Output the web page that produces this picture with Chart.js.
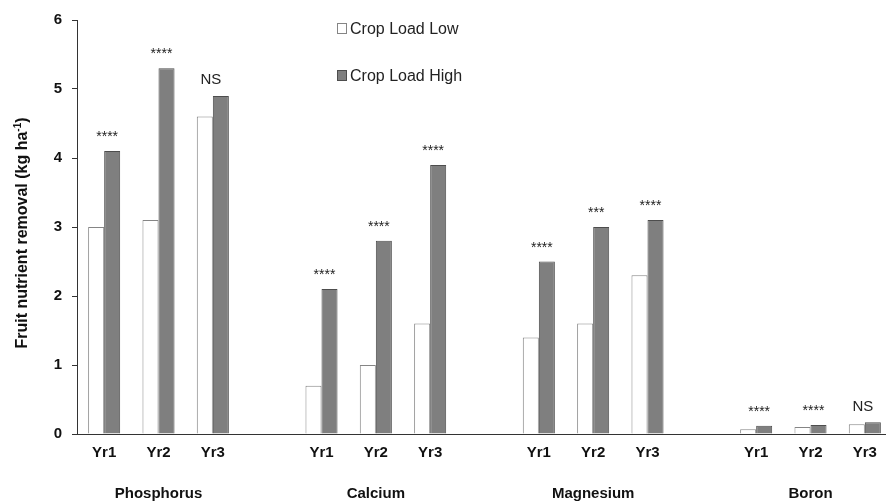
<!DOCTYPE html>
<html>
<head>
<meta charset="utf-8">
<script src="https://cdn.jsdelivr.net/npm/chart.js@4.4.1/dist/chart.umd.min.js"></script>
<style>
  html, body { margin: 0; padding: 0; background: #ffffff; overflow: hidden; }
  #wrap { width: 886px; height: 502px; overflow: hidden; position: relative; }
  canvas { display: block; }
</style>
</head>
<body>
<div id="wrap"><canvas id="chart" width="893" height="502"></canvas></div>
<script>
// ---- Data ----
const groups = ['Phosphorus', 'Calcium', 'Magnesium', 'Boron'];
const years = ['Yr1', 'Yr2', 'Yr3'];
const seriesNames = ['Crop Load Low', 'Crop Load High'];
const lowValues = [3.0, 3.1, 4.6, 0.7, 1.0, 1.6, 1.4, 1.6, 2.3, 0.07, 0.10, 0.14];
const highValues = [4.1, 5.3, 4.9, 2.1, 2.8, 3.9, 2.5, 3.0, 3.1, 0.12, 0.13, 0.17];
const significance = ['****', '****', 'NS', '****', '****', '****', '****', '***', '****', '****', '****', 'NS'];
const yTicks = [0, 1, 2, 3, 4, 5, 6];
const yTitle = 'Fruit nutrient removal (kg ha';
const yTitleSup = '-1';
const yTitleEnd = ')';

// ---- Build category slots (a blank spacer between nutrient groups) ----
const labels = [];
const lowData = [];
const highData = [];
const slotIndex = [];
groups.forEach((g, gi) => {
  years.forEach((y, yi) => {
    slotIndex.push(labels.length);
    labels.push(y);
    lowData.push(lowValues[gi * years.length + yi]);
    highData.push(highValues[gi * years.length + yi]);
  });
  if (gi < groups.length - 1) {
    labels.push('');
    lowData.push(null);
    highData.push(null);
  }
});

const FONT = '"Liberation Sans", Arial, Helvetica, sans-serif';
const LOW_FILL = '#ffffff', LOW_BORDER = '#858585';
const HIGH_FILL = '#7f7f7f', HIGH_BORDER = '#4d4d4d';

const overlay = {
  id: 'overlay',
  afterDraw(chart) {
    const ctx = chart.ctx;
    const metaLow = chart.getDatasetMeta(0);
    const metaHigh = chart.getDatasetMeta(1);
    ctx.save();
    // significance marks
    slotIndex.forEach((idx, k) => {
      const bl = metaLow.data[idx], bh = metaHigh.data[idx];
      const cx = (bl.x + bh.x) / 2;
      const top = Math.min(bl.y, bh.y);
      const txt = significance[k];
      ctx.fillStyle = '#222';
      ctx.textAlign = 'center';
      ctx.textBaseline = 'alphabetic';
      if (txt === 'NS') {
        ctx.font = '15px ' + FONT;
        ctx.fillText(txt, cx - 2, top - 11.5);
      } else {
        ctx.font = '14px ' + FONT;
        ctx.fillText(txt, cx + 3, top - 10);
      }
    });
    // group labels under Yr2
    const xs = chart.scales.x;
    ctx.font = 'bold 15px ' + FONT;
    ctx.fillStyle = '#111';
    ctx.textAlign = 'center';
    ctx.textBaseline = 'alphabetic';
    groups.forEach((g, gi) => {
      const idx = slotIndex[gi * years.length + 1];
      ctx.fillText(g, xs.getPixelForValue(idx), 498);
    });
    // legend
    const leg = [[LOW_FILL, LOW_BORDER], [HIGH_FILL, HIGH_BORDER]];
    ctx.font = '16px ' + FONT;
    ctx.textAlign = 'left';
    seriesNames.forEach((name, i) => {
      const base = 34 + i * 47;
      ctx.fillStyle = leg[i][0];
      ctx.strokeStyle = leg[i][1];
      ctx.lineWidth = 1;
      ctx.fillRect(337.5, base - 10.5, 9, 10);
      ctx.strokeRect(337.5, base - 10.5, 9, 10);
      ctx.fillStyle = '#222';
      ctx.fillText(name, 350, base);
    });
    // y-axis title with superscript
    ctx.translate(23, 233);
    ctx.rotate(-Math.PI / 2);
    const fMain = 'bold 16px ' + FONT, fSup = 'bold 10px ' + FONT;
    ctx.font = fMain; const w1 = ctx.measureText(yTitle).width; const w3 = ctx.measureText(yTitleEnd).width;
    ctx.font = fSup; const w2 = ctx.measureText(yTitleSup).width;
    let x0 = -(w1 + w2 + w3) / 2;
    ctx.fillStyle = '#111';
    ctx.textAlign = 'left';
    ctx.textBaseline = 'middle';
    ctx.font = fMain; ctx.fillText(yTitle, x0, 0); x0 += w1;
    ctx.font = fSup; ctx.fillText(yTitleSup, x0, -5); x0 += w2;
    ctx.font = fMain; ctx.fillText(yTitleEnd, x0, 0);
    ctx.restore();
  }
};

new Chart(document.getElementById('chart'), {
  type: 'bar',
  data: {
    labels: labels,
    datasets: [
      { label: seriesNames[0], data: lowData, backgroundColor: LOW_FILL, borderColor: LOW_BORDER, borderWidth: 1 },
      { label: seriesNames[1], data: highData, backgroundColor: HIGH_FILL, borderColor: HIGH_BORDER, borderWidth: 1 }
    ]
  },
  options: {
    responsive: false,
    animation: false,
    layout: { padding: { top: 20, right: 1, left: 0, bottom: 0 } },
    datasets: { bar: { categoryPercentage: 0.59, barPercentage: 1.0 } },
    plugins: { legend: { display: false }, tooltip: { enabled: false } },
    scales: {
      x: {
        grid: { display: false, drawTicks: false },
        border: { display: true, color: '#333', width: 1 },
        ticks: { font: { family: FONT, size: 15, weight: 'bold' }, color: '#111', padding: 10, autoSkip: false, maxRotation: 0 },
        afterFit: (s) => { s.height = 68; }
      },
      y: {
        min: 0, max: 6,
        afterBuildTicks: (s) => { s.ticks = yTicks.map(v => ({ value: v })); },
        ticks: { font: { family: FONT, size: 15, weight: 'bold' }, color: '#111', padding: 10 },
        grid: { display: true, drawOnChartArea: false, drawTicks: true, tickLength: 5, color: '#333' },
        border: { display: true, color: '#333', width: 1 },
        afterFit: (s) => { s.width = 77; }
      }
    }
  },
  plugins: [overlay]
});
</script>
</body>
</html>
